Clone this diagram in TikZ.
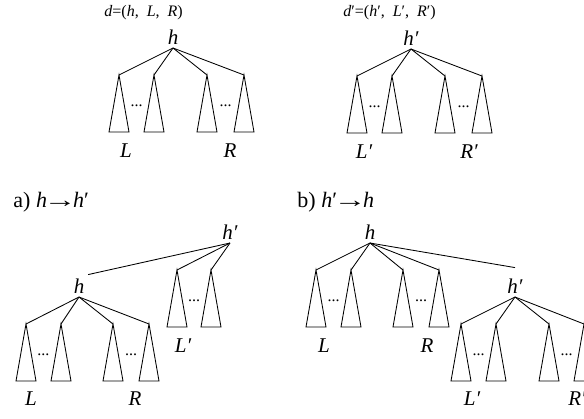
\documentclass[tikz,border=0pt]{standalone}
\usepackage{fontspec}
\setmainfont{Liberation Serif}
\usetikzlibrary{calc}
\tikzset{
  lab/.style={font=\fontsize{21}{21}\selectfont\itshape, inner sep=3.5pt},
  apex/.style={lab, anchor=south},
  leaf/.style={lab, anchor=base},
  dots/.style={font=\fontsize{16}{16}\selectfont, inner sep=0pt, anchor=base},
  tuple/.style={font=\fontsize{16}{16}\selectfont, inner sep=0pt, anchor=base west},
  title/.style={font=\fontsize{22}{22}\selectfont, inner sep=0pt, anchor=base west},
}
\newcommand{\longto}{\kern-3.5pt\scalebox{1.5}[1]{→}\kern-3.5pt}
% one child: edge from the apex and a triangle hanging below it
\newcommand{\kid}[3]{%
  \coordinate (#2) at ($(#1.south)+#3$);
  \draw (#1.south) -- (#2);
  \draw (#2) -- ++(-10,57) -- ++(20,0) -- cycle;}
\begin{document}
\begin{tikzpicture}[x=1pt, y=-1pt, line width=0.85pt, line join=miter]
  \useasboundingbox (0,0) rectangle (584,418);
  \clip (0,0) rectangle (584,418);
  % d = (h, L, R)
  \node[tuple] (capd) at (104,16) {\textit{d}=(\textit{h},\ \ \textit{L},\ \ \textit{R})};
  \node[apex] (h1) at (173,48) {h};
  \kid{h1}{h1a}{(-54,27)} \kid{h1}{h1b}{(-19,27)}
  \kid{h1}{h1c}{(34,27)} \kid{h1}{h1d}{(71,27)}
  \node[dots] (d1a) at ($(h1a)!.5!(h1b)+(0,31)$) {...};
  \node[dots] (d1b) at ($(h1c)!.5!(h1d)+(0,31)$) {...};
  \node[leaf] (L1) at ($(h1.south)+(-47,109)$) {L};
  \node[leaf] (R1) at ($(h1.south)+(57,109)$) {R};
  % d' = (h', L', R')
  \node[tuple] (capdp) at (343,16) {\textit{d}′=(\textit{h}′,\ \ \textit{L}′,\ \ \textit{R}′)};
  \node[apex] (h2) at (411,49) {h′};
  \kid{h2}{h2a}{(-54,27)} \kid{h2}{h2b}{(-19,27)}
  \kid{h2}{h2c}{(34,27)} \kid{h2}{h2d}{(71,27)}
  \node[dots] (d2a) at ($(h2a)!.5!(h2b)+(0,31)$) {...};
  \node[dots] (d2b) at ($(h2c)!.5!(h2d)+(0,31)$) {...};
  \node[leaf] (L2) at ($(h2.south)+(-47,109)$) {L′};
  \node[leaf] (R2) at ($(h2.south)+(58,109)$) {R′};
  % a) h -> h'
  \node[title] (ta) at (13,207) {a) \textit{h}\longto\textit{h}′};
  \node[apex] (h3) at (230,243) {h′};
  \kid{h3}{h3a}{(-53,27)} \kid{h3}{h3b}{(-19,27)}
  \node[dots] (d3a) at ($(h3a)!.5!(h3b)+(0,31)$) {...};
  \node[leaf] (L3) at ($(h3.south)+(-47,109)$) {L′};
  \node[apex] (h4) at (79,297) {h};
  \draw (h3.south) -- (h4.north east);
  \kid{h4}{h4a}{(-53,27)} \kid{h4}{h4b}{(-18,27)}
  \kid{h4}{h4c}{(34,27)} \kid{h4}{h4d}{(70,27)}
  \node[dots] (d4a) at ($(h4a)!.5!(h4b)+(0,31)$) {...};
  \node[dots] (d4b) at ($(h4c)!.5!(h4d)+(0,31)$) {...};
  \node[leaf] (L4) at ($(h4.south)+(-48,108)$) {L};
  \node[leaf] (R4) at ($(h4.south)+(56,108)$) {R};
  % b) h' -> h
  \node[title] (tb) at (297,207) {b) \textit{h}′\longto\textit{h}};
  \node[apex] (h5) at (370,243) {h};
  \kid{h5}{h5a}{(-54,27)} \kid{h5}{h5b}{(-19,27)}
  \kid{h5}{h5c}{(33,27)} \kid{h5}{h5d}{(69,27)}
  \node[dots] (d5a) at ($(h5a)!.5!(h5b)+(0,31)$) {...};
  \node[dots] (d5b) at ($(h5c)!.5!(h5d)+(0,31)$) {...};
  \node[leaf] (L5) at ($(h5.south)+(-46,109)$) {L};
  \node[leaf] (R5) at ($(h5.south)+(57,109)$) {R};
  \node[apex] (h6) at (515,297) {h′};
  \draw (h5.south) -- ([yshift=7pt]h6.north);
  \kid{h6}{h6a}{(-54,27)} \kid{h6}{h6b}{(-19,27)}
  \kid{h6}{h6c}{(34,27)} \kid{h6}{h6d}{(69,27)}
  \node[dots] (d6a) at ($(h6a)!.5!(h6b)+(0,31)$) {...};
  \node[dots] (d6b) at ($(h6c)!.5!(h6d)+(0,31)$) {...};
  \node[leaf] (L6) at ($(h6.south)+(-43,108)$) {L′};
  \node[leaf] (R6) at ($(h6.south)+(62,108)$) {R′};
\end{tikzpicture}
\end{document}
